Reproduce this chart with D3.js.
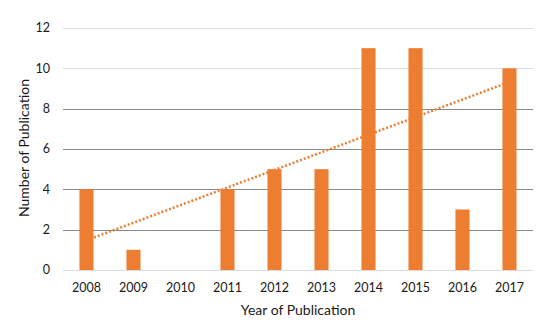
<!DOCTYPE html>
<html>
<head>
<meta charset="utf-8">
<script src="https://cdn.jsdelivr.net/npm/d3@7"></script>
<style>
  body { margin: 0; background: #fff; }
  text { font-family: Lato, "Open Sans", sans-serif; fill: #1a1a1a; }
</style>
</head>
<body>
<svg id="chart"></svg>
<script>
const years = ["2008", "2009", "2010", "2011", "2012", "2013", "2014", "2015", "2016", "2017"],
      counts = [4, 1, 0, 4, 5, 5, 11, 11, 3, 10],
      yTicks = [0, 2, 4, 6, 8, 10, 12];

const margin = {top: 28, right: 17, bottom: 56, left: 63},
      width = 550 - margin.left - margin.right,
      height = 326 - margin.top - margin.bottom,
      orange = "#ED7D31";

// x scale: one band per year
let x = d3.scaleBand()
          .domain(years)
          .range([0, width])
          .paddingInner(0.7)
          .paddingOuter(0.35);

let y = d3.scaleLinear()
          .domain([0, 12])
          .range([height, 0]);

let svg = d3.select("#chart")
            .attr("width", 550)
            .attr("height", 326);

let chart = svg.append("g")
               .attr("transform", "translate(" + margin.left + "," + margin.top + ")");

// Gridlines (top two and baseline are lighter in the reference)
chart.selectAll(".grid")
     .data(yTicks)
     .enter().append("line")
     .attr("class", "grid")
     .attr("x1", 0)
     .attr("x2", width)
     .attr("y1", (d) => { return Math.round(y(d)) + 0.5; })
     .attr("y2", (d) => { return Math.round(y(d)) + 0.5; })
     .style("stroke", (d) => { return (d === 0 || d >= 10) ? "#dadde3" : "#8a8a8a"; })
     .style("stroke-width", 1.2);

// Linear trend line (least squares over the counts), drawn behind the bars
let n = counts.length,
    meanX = d3.mean(counts, (d, i) => { return i; }),
    meanY = d3.mean(counts),
    sxy = d3.sum(counts, (d, i) => { return (i - meanX) * (d - meanY); }),
    sxx = d3.sum(counts, (d, i) => { return (i - meanX) * (i - meanX); }),
    slope = sxy / sxx,
    intercept = meanY - slope * meanX;

let trend = [0, n - 1].map((i) => { return {year: years[i], value: intercept + slope * i}; });

chart.append("path")
     .datum(trend)
     .attr("d", d3.line()
                  .x((d) => { return x(d.year) + x.bandwidth() / 2; })
                  .y((d) => { return y(d.value); }))
     .style("fill", "none")
     .style("stroke", orange)
     .style("stroke-width", 2.5)
     .style("stroke-dasharray", "2,2");

// Bars
chart.selectAll(".bar")
     .data(counts)
     .enter().append("rect")
     .attr("class", "bar")
     .attr("x", (d, i) => { return x(years[i]); })
     .attr("y", (d) => { return y(d); })
     .attr("width", x.bandwidth())
     .attr("height", (d) => { return y(0) - y(d); })
     .style("fill", orange);

// y tick labels
chart.selectAll(".ytick")
     .data(yTicks)
     .enter().append("text")
     .attr("class", "ytick")
     .attr("x", -13)
     .attr("y", (d) => { return y(d); })
     .attr("dy", "0.35em")
     .style("text-anchor", "end")
     .style("font-size", "12.5px")
     .text((d) => { return d; });

// x tick labels
chart.selectAll(".xtick")
     .data(years)
     .enter().append("text")
     .attr("class", "xtick")
     .attr("x", (d) => { return x(d) + x.bandwidth() / 2; })
     .attr("y", height + 18)
     .attr("dy", "0.35em")
     .style("text-anchor", "middle")
     .style("font-size", "12.5px")
     .text((d) => { return d; });

// Axis titles
chart.append("text")
     .attr("x", width / 2)
     .attr("y", height + 40)
     .attr("dy", "0.35em")
     .style("text-anchor", "middle")
     .style("font-size", "14px")
     .text("Year of Publication");

chart.append("text")
     .attr("transform", "rotate(-90)")
     .attr("x", -(y(6) - 1))
     .attr("y", -39)
     .attr("dy", "0.35em")
     .style("text-anchor", "middle")
     .style("font-size", "14px")
     .text("Number of Publication");
</script>
</body>
</html>
